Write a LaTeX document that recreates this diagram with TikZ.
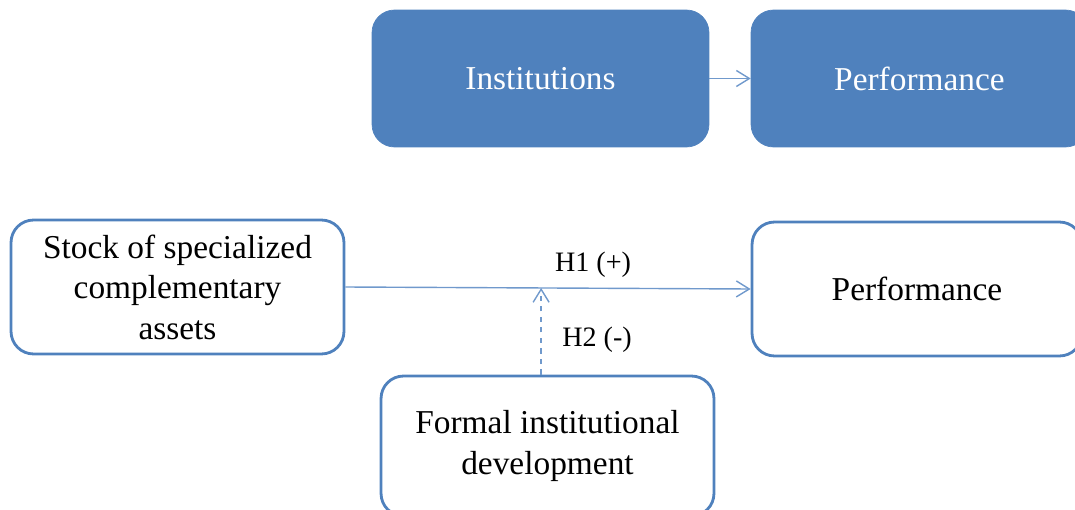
\documentclass[tikz,border=0pt]{standalone}
\usepackage{fontspec}
\setmainfont{Liberation Serif}
\usetikzlibrary{positioning, shapes, arrows.meta, calc}
\usepackage{xcolor}
\definecolor{boxblue}{HTML}{4F81BD}
\definecolor{linkblue}{HTML}{7099CC}

\begin{document}
\begin{tikzpicture}[x=0.02cm, y=-0.02cm,
    filledbox/.style={rectangle, rounded corners=0.45cm, fill=boxblue, draw=boxblue, text=white,
        font=\fontsize{19}{23}\selectfont, align=center, inner sep=0pt},
    openbox/.style={rectangle, rounded corners=0.45cm, fill=white, draw=boxblue, line width=1.6pt,
        font=\fontsize{19}{23}\selectfont, align=center, inner sep=0pt},
    link/.style={draw=linkblue, line width=0.8pt, -{Straight Barb[length=2.6mm, width=3.2mm]}},
    hyp/.style={font=\fontsize{16}{19}\selectfont}]
    \useasboundingbox (0,0) rectangle (1075,510);

    % Draw the upper row
    \node[filledbox, minimum width=6.74cm, minimum height=2.74cm] (inst) at (540.5,78.5) {Institutions};
    \node[filledbox, minimum width=6.74cm, minimum height=2.74cm] (perfA) at (919.5,78.5) {Performance};

    % Draw the lower row
    \node[openbox, minimum width=6.66cm, minimum height=2.68cm] (stock) at (177.5,287) {Stock of specialized\\complementary\\assets};
    \node[openbox, minimum width=6.6cm, minimum height=2.68cm] (perfB) at (917,289) {Performance};
    \node[openbox, minimum width=6.66cm, minimum height=2.8cm] (formal) at (547.5,446) {Formal institutional\\development};

    % Add the links
    \draw[link] (inst.east) -- (perfA.west);
    \draw[link] (stock.east) -- (perfB.west);
    \coordinate (h2end) at ($(stock.east)!0.483!(perfB.west)$); % Point on the H1 line
    \draw[link, dashed] (formal.north -| h2end) -- (h2end);

    % Add hypothesis labels
    \node[hyp] (h1) at (593,265) {H1 (+)};
    \node[hyp] (h2) at (597,340) {H2 (-)};
\end{tikzpicture}
\end{document}
